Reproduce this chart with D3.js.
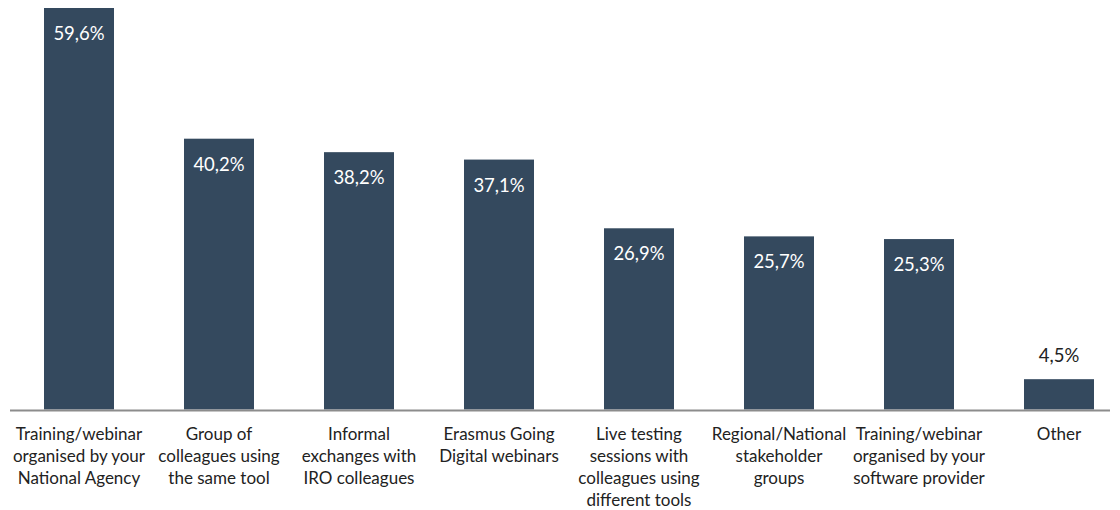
<!DOCTYPE html>
<html><head><meta charset="utf-8">
<script src="https://cdn.jsdelivr.net/npm/d3@7"></script>
<style>body{margin:0;background:#fff}svg{display:block}</style>
</head><body>
<svg id="c" width="1120" height="510"></svg>
<script>
const categories = [
  "Training/webinar|organised by your|National Agency",
  "Group of|colleagues using|the same tool",
  "Informal|exchanges with|IRO colleagues",
  "Erasmus Going|Digital webinars",
  "Live testing|sessions with|colleagues using|different tools",
  "Regional/National|stakeholder|groups",
  "Training/webinar|organised by your|software provider",
  "Other"
];
const values = [59.6, 40.2, 38.2, 37.1, 26.9, 25.7, 25.3, 4.5];
const valueLabels = ["59,6%", "40,2%", "38,2%", "37,1%", "26,9%", "25,7%", "25,3%", "4,5%"];

const svg = d3.select("#c");
const font = "Lato, 'Open Sans', sans-serif";
const baseY = 409.5;
const x = d3.scaleBand().domain(categories).range([9, 1129]).paddingInner(0.5).paddingOuter(0.25);
const y = d3.scaleLinear().domain([0, 59.6]).range([baseY, 8]);

svg.append("g").selectAll("rect").data(values).join("rect")
  .attr("x", (d, i) => x(categories[i]))
  .attr("width", x.bandwidth())
  .attr("y", d => y(d))
  .attr("height", d => baseY - y(d))
  .attr("fill", "#34495e");

svg.append("line").attr("x1", 10).attr("x2", 1110).attr("y1", 410.5).attr("y2", 410.5)
  .attr("stroke", "#8c8c8c").attr("stroke-width", 2);

svg.append("g").selectAll("text").data(values).join("text")
  .attr("x", (d, i) => x(categories[i]) + x.bandwidth() / 2)
  .attr("y", d => d > 10 ? y(d) + 32 : y(d) - 17)
  .attr("text-anchor", "middle")
  .attr("font-family", font).attr("font-size", 18.5)
  .attr("fill", d => d > 10 ? "#ffffff" : "#222222")
  .text((d, i) => valueLabels[i]);

const lab = svg.append("g").selectAll("text").data(categories).join("text")
  .attr("x", d => x(d) + x.bandwidth() / 2)
  .attr("y", 440)
  .attr("text-anchor", "middle")
  .attr("font-family", font).attr("font-size", 17)
  .attr("fill", "#222222");
lab.each(function(d) {
  const t = d3.select(this);
  d.split("|").forEach((s, k) => {
    t.append("tspan").attr("x", x(d) + x.bandwidth() / 2).attr("y", 440 + k * 22).text(s);
  });
});
</script>
</body></html>
